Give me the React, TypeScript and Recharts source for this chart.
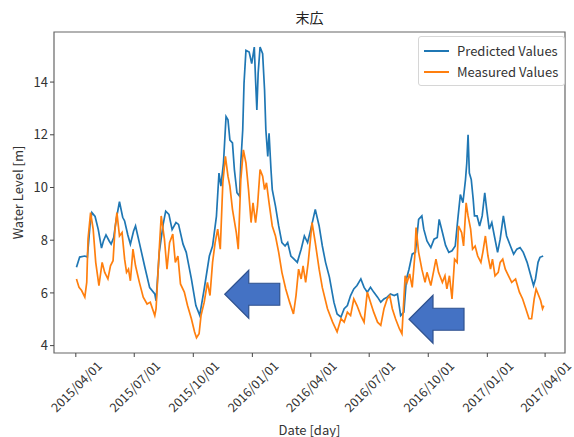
import React from "react";
import {
  LineChart,
  Line,
  XAxis,
  YAxis,
  ReferenceArea,
  ReferenceDot,
  Legend,
} from "recharts";

// days counted from 2015/04/01
const PRED_DAYS = [
  1, 6, 14, 18, 22, 25, 30, 35, 40, 43, 47, 52, 55, 59, 63, 68, 73, 76, 81, 85, 90, 93, 99, 107, 115, 123, 125,
  130, 136, 140, 145, 150, 156, 160, 167, 172, 180, 187, 193, 200, 208, 213, 219, 223, 226, 230, 234, 237, 240,
  244, 247, 251, 255, 257, 260, 262, 265, 270, 274, 278, 280, 282, 284, 287, 291, 294, 296, 299, 301, 304, 306,
  311, 316, 321, 326, 330, 335, 340, 345, 351, 356, 361, 366, 373, 379, 384, 389, 395, 402, 407, 413, 418, 423,
  428, 433, 438, 444, 449, 454, 459, 464, 470, 475, 480, 485, 490, 496, 501, 506, 511, 515, 519, 524, 529, 534,
  539, 542, 547, 553, 558, 563, 566, 571, 576, 581, 586, 591, 595, 599, 603, 607, 609, 611, 613, 616, 619, 621,
  625, 629, 633, 637, 640, 644, 648, 652, 657, 661, 666, 671, 677, 682, 687, 692, 697, 703, 708, 713, 716, 720,
  723, 728,
];
const PRED_LEVEL = [
  6.97, 7.36, 7.4, 7.36, 8.54, 9.05, 8.9, 8.4, 7.7, 7.97, 8.2, 7.97, 7.85, 8.1, 8.8, 9.46, 8.87, 8.73, 8.2, 7.85,
  8.35, 8.54, 7.9, 7.03, 6.2, 5.96, 5.7, 7.54, 8.6, 9.1, 8.98, 8.4, 8.67, 8.6, 7.85, 7.54, 6.53, 5.52, 5.15, 6.15,
  7.4, 7.78, 8.9, 10.55, 10.05, 10.93, 12.69, 12.57, 11.8, 11.69, 10.68, 9.8, 9.67, 10.94, 12.19, 13.95, 15.2,
  15.14, 14.7, 15.33, 14.07, 12.94, 14.33, 15.33, 15.08, 13.7, 12.19, 11.18, 12.06, 10.68, 9.92, 9.29, 8.54,
  7.91, 7.78, 7.91, 7.4, 7.28, 7.16, 7.66, 8.16, 7.91, 8.41, 9.17, 8.54, 7.78, 7.16, 6.6, 5.65, 5.2, 5.08, 5.4,
  5.52, 5.9, 6.15, 6.28, 6.53, 6.21, 6.03, 6.21, 6.03, 5.84, 5.65, 5.77, 5.84, 5.96, 5.9, 5.96, 5.14, 5.27, 6.53,
  6.9, 7.47, 7.54, 8.79, 8.92, 8.42, 7.97, 7.72, 8.04, 8.1, 8.79, 8.3, 7.8, 7.54, 7.6, 7.78, 8.79, 9.73, 9.42,
  10.3, 10.93, 12.0, 10.55, 10.3, 9.55, 8.92, 8.92, 8.54, 8.92, 9.8, 9.17, 8.42, 8.67, 8.16, 7.54, 8.04, 8.92,
  8.16, 7.78, 7.47, 7.66, 7.72, 7.54, 7.16, 6.72, 6.28, 6.53, 7.16, 7.35, 7.4,
];

const MEAS_DAYS = [
  1, 5, 9, 14, 17, 19, 23, 27, 31, 36, 41, 45, 50, 54, 58, 61, 64, 68, 72, 76, 79, 82, 85, 89, 93, 99, 105, 111,
  116, 123, 125, 130, 133, 138, 142, 146, 151, 155, 159, 163, 169, 174, 180, 185, 188, 192, 195, 200, 205, 209,
  213, 217, 221, 225, 229, 233, 237, 240, 244, 250, 253, 257, 261, 265, 269, 273, 276, 280, 283, 287, 291, 294,
  297, 301, 306, 311, 316, 321, 327, 333, 339, 343, 347, 351, 354, 358, 362, 368, 373, 379, 384, 392, 400, 407,
  413, 418, 423, 428, 433, 438, 444, 449, 454, 459, 464, 470, 475, 480, 485, 489, 493, 498, 504, 508, 513, 516,
  520, 524, 528, 530, 534, 539, 544, 547, 553, 558, 561, 565, 571, 575, 578, 582, 586, 590, 594, 596, 601, 604,
  608, 611, 615, 618, 622, 626, 631, 634, 638, 642, 646, 649, 653, 658, 661, 665, 669, 674, 679, 685, 691, 696,
  701, 706, 710, 714, 717, 721, 724, 727, 729,
];
const MEAS_LEVEL = [
  6.53, 6.21, 6.09, 5.84, 6.4, 8.04, 9.05, 8.42, 7.16, 6.28, 7.16, 6.78, 6.53, 7.03, 7.22, 8.42, 9.05, 8.16, 8.29,
  7.28, 6.78, 6.9, 6.46, 7.66, 7.03, 6.4, 5.84, 5.58, 5.65, 5.14, 5.4, 7.66, 8.92, 8.04, 6.9, 7.91, 8.23, 7.16,
  7.4, 6.34, 6.03, 5.52, 5.02, 4.52, 4.3, 4.45, 5.14, 5.65, 6.4, 5.9, 7.16, 7.91, 8.42, 7.66, 10.18, 11.18, 10.43,
  10.05, 9.17, 8.29, 7.66, 10.3, 11.43, 10.93, 9.92, 8.67, 9.42, 8.67, 9.29, 10.68, 10.43, 9.92, 10.18, 9.42,
  8.54, 8.16, 7.54, 6.78, 6.15, 5.65, 5.2, 5.9, 6.9, 6.53, 7.03, 6.4, 7.16, 8.67, 7.91, 6.9, 6.2, 5.4, 4.89, 4.52,
  5.02, 4.89, 5.27, 5.14, 5.77, 5.52, 5.14, 4.89, 6.03, 5.65, 5.27, 4.89, 4.77, 5.4, 5.77, 5.9, 5.4, 5.02, 4.64,
  4.45, 6.65, 6.4, 6.72, 6.21, 7.4, 8.48, 7.54, 6.9, 6.4, 6.78, 6.28, 6.9, 7.28, 6.78, 6.4, 6.65, 6.15, 6.65, 5.77,
  7.28, 7.16, 8.54, 8.29, 7.78, 9.42, 8.92, 8.42, 7.66, 7.78, 7.4, 7.16, 7.54, 8.16, 7.4, 6.9, 7.28, 6.65, 6.78,
  7.16, 7.28, 6.9, 6.65, 6.4, 6.53, 6.03, 5.77, 5.4, 5.02, 5.02, 5.77, 6.15, 5.9, 5.71, 5.4, 5.52,
];

const TICK_LABELS = [
  "2015/04/01",
  "2015/07/01",
  "2015/10/01",
  "2016/01/01",
  "2016/04/01",
  "2016/07/01",
  "2016/10/01",
  "2017/01/01",
  "2017/04/01",
];
const Y_TICKS = [4, 6, 8, 10, 12, 14];

// arrow tips (day, level)
const ARROW_DAYS = [232, 519];
const ARROW_LEVELS = [5.95, 5.0];

const FONT = '"Noto Sans CJK JP", "Noto Sans", sans-serif';
const BLUE = "#1f77b4";
const ORANGE = "#ff7f0e";

const START = Date.UTC(2015, 3, 1);
const toDay = (s: string) => {
  const [y, m, d] = s.split("/").map(Number);
  return Math.round((Date.UTC(y, m - 1, d) - START) / 86400000);
};
const X_TICKS = TICK_LABELS.map(toDay);
const X_DOMAIN = [-34, 762];
const Y_DOMAIN = [3.72, 15.9];

const predData = PRED_DAYS.map((d, i) => ({ day: d, level: PRED_LEVEL[i] }));
const measData = MEAS_DAYS.map((d, i) => ({ day: d, level: MEAS_LEVEL[i] }));

function DateTick({ x, y, payload }: any) {
  const idx = X_TICKS.indexOf(payload.value);
  const cy = y + 27;
  return (
    <text
      x={x}
      y={cy}
      transform={`rotate(-45 ${x} ${cy})`}
      textAnchor="middle"
      dominantBaseline="central"
      fontSize={12.5}
      fontFamily={FONT}
      fill="#333"
    >
      {TICK_LABELS[idx]}
    </text>
  );
}

function Arrow({ cx, cy }: any) {
  const pts = [
    [0, 0],
    [24, -24],
    [24, -11],
    [55, -11],
    [55, 11],
    [24, 11],
    [24, 24],
  ]
    .map(([dx, dy]) => `${cx + dx},${cy + dy}`)
    .join(" ");
  return <polygon points={pts} fill="#4472C4" stroke="#2F528F" strokeWidth={1.2} />;
}

function LegendBox() {
  const items = [
    { name: "Predicted Values", color: BLUE },
    { name: "Measured Values", color: ORANGE },
  ];
  return (
    <div
      style={{
        border: "1px solid #d6d6d6",
        borderRadius: 3,
        background: "rgba(255,255,255,0.85)",
        padding: "3px 6px 3px 5px",
        fontFamily: FONT,
        fontSize: 13,
        color: "#333",
      }}
    >
      {items.map((it) => (
        <div key={it.name} style={{ display: "flex", alignItems: "center", height: 21 }}>
          <span style={{ width: 25, height: 2, background: it.color, marginRight: 8 }} />
          {it.name}
        </div>
      ))}
    </div>
  );
}

export default function App() {
  return (
    <div style={{ position: "absolute", left: 0, top: 0, width: 574, height: 437, background: "#fff" }}>
      <div
        style={{
          position: "absolute",
          left: 54,
          width: 511,
          top: 7,
          textAlign: "center",
          fontFamily: FONT,
          fontSize: 14,
          color: "#222",
        }}
      >
        末広
      </div>
      <LineChart width={574} height={437} margin={{ top: 32, right: 9, bottom: 0, left: 0 }}>
        <XAxis
          type="number"
          dataKey="day"
          domain={X_DOMAIN}
          ticks={X_TICKS}
          allowDataOverflow
          height={84}
          axisLine={false}
          tickLine={{ stroke: "#444" }}
          tickSize={4}
          tick={<DateTick />}
          interval={0}
          label={{
            content: ({ viewBox }: any) => (
              <text
                x={viewBox.x + viewBox.width / 2}
                y={viewBox.y + 76}
                textAnchor="middle"
                dominantBaseline="central"
                fontSize={13}
                fontFamily={FONT}
                fill="#333"
              >
                Date [day]
              </text>
            ),
          }}
        />
        <YAxis
          type="number"
          domain={Y_DOMAIN}
          ticks={Y_TICKS}
          allowDataOverflow
          width={54}
          axisLine={false}
          tickLine={{ stroke: "#444" }}
          tickSize={4}
          tick={{ fontSize: 13, fontFamily: FONT, fill: "#333" }}
          label={{
            content: ({ viewBox }: any) => {
              const x = 17;
              const y = viewBox.y + viewBox.height / 2;
              return (
                <text
                  x={x}
                  y={y}
                  transform={`rotate(-90 ${x} ${y})`}
                  textAnchor="middle"
                  dominantBaseline="central"
                  fontSize={13}
                  fontFamily={FONT}
                  fill="#333"
                >
                  Water Level [m]
                </text>
              );
            },
          }}
        />
        <ReferenceArea
          x1={X_DOMAIN[0]}
          x2={X_DOMAIN[1]}
          y1={Y_DOMAIN[0]}
          y2={Y_DOMAIN[1]}
          fill="none"
          stroke="#666"
          strokeWidth={1.2}
          ifOverflow="visible"
        />
        <Line
          data={predData}
          dataKey="level"
          name="Predicted Values"
          stroke={BLUE}
          strokeWidth={1.7}
          dot={false}
          isAnimationActive={false}
        />
        <Line
          data={measData}
          dataKey="level"
          name="Measured Values"
          stroke={ORANGE}
          strokeWidth={1.7}
          dot={false}
          isAnimationActive={false}
        />
        {ARROW_DAYS.map((d, i) => (
          <ReferenceDot key={i} x={d} y={ARROW_LEVELS[i]} ifOverflow="visible" shape={<Arrow />} />
        ))}
        <Legend
          content={<LegendBox />}
          layout="vertical"
          align="center"
          verticalAlign="middle"
          wrapperStyle={{ position: "absolute", left: 418, top: 36, width: "auto", height: "auto" }}
        />
      </LineChart>
    </div>
  );
}
